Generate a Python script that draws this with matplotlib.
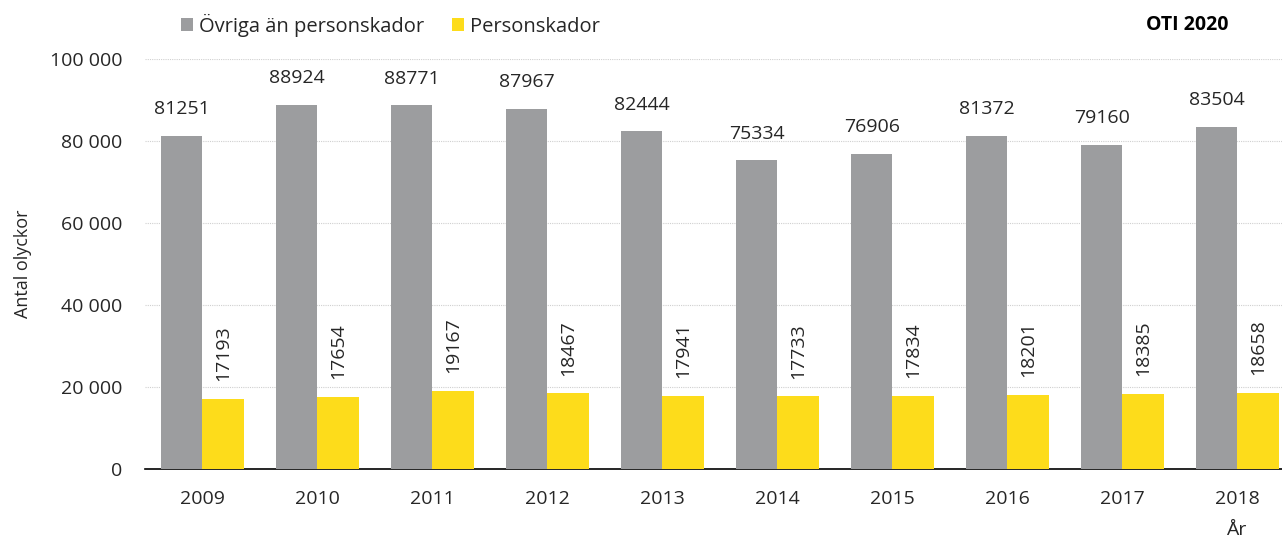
import matplotlib
matplotlib.use("Agg")
import matplotlib.pyplot as plt
import numpy as np

years = ["2009", "2010", "2011", "2012", "2013", "2014", "2015", "2016", "2017", "2018"]
ovriga = [81251, 88924, 88771, 87967, 82444, 75334, 76906, 81372, 79160, 83504]
person = [17193, 17654, 19167, 18467, 17941, 17733, 17834, 18201, 18385, 18658]
yticks = [0, 20000, 40000, 60000, 80000, 100000]
ytick_labels = ["0", "20 000", "40 000", "60 000", "80 000", "100 000"]

plt.rcParams['font.family'] = ['Open Sans', 'DejaVu Sans']

gray = "#9C9D9F"
yellow = "#FDDC1B"
txt = "#262626"

fig = plt.figure(figsize=(12.82, 5.38), dpi=100)
ax = fig.add_axes([0.113, 0.128, 1150 / 1282, 0.762])

x = np.arange(len(years))
w = 0.36
ax.bar(x - w/2, ovriga, w, color=gray, label="Övriga än personskador", zorder=3)
ax.bar(x + w/2, person, w, color=yellow, label="Personskador", zorder=3)

for xi, v in zip(x, ovriga):
    ax.text(xi - w/2, v + 4300, str(v), ha="center", va="bottom", fontsize=14, color=txt)
for xi, v in zip(x, person):
    ax.text(xi + w/2, v + 4300, str(v), ha="center", va="bottom", rotation=90, fontsize=14, color=txt)

ax.set_xlim(-0.5, len(years) - 0.5)
ax.set_ylim(0, 100000)
ax.set_yticks(yticks)
ax.set_yticklabels(ytick_labels, fontsize=14, color=txt)
ax.set_xticks(x)
ax.set_xticklabels(years, fontsize=14, color=txt)
ax.tick_params(axis="x", length=0, pad=15)
ax.tick_params(axis="y", length=0, pad=16)
ax.yaxis.grid(True, color="#D0D0D0", linestyle=(0, (1, 1)), linewidth=0.8, zorder=0)
for s in ["top", "right", "left"]:
    ax.spines[s].set_visible(False)
ax.spines["bottom"].set_color("#000000")
ax.spines["bottom"].set_linewidth(1.2)

ax.set_ylabel("Antal olyckor", fontsize=13, color=txt, labelpad=13)

fig.text(1236 / 1282, 1 - 530 / 538, "År", fontsize=14, color=txt, ha="center", va="center")
fig.text(0.958, 1 - 25 / 538, "OTI 2020", fontsize=14, fontweight="bold", color="#000000", ha="right", va="center")

leg = fig.legend(loc="center left", bbox_to_anchor=(0.141, 1 - 25 / 538), ncol=2, frameon=False,
                 fontsize=14.5, handlelength=0.6, handleheight=0.6, handletextpad=0.3, columnspacing=1.4,
                 borderaxespad=0, borderpad=0)
for t in leg.get_texts():
    t.set_color(txt)

fig.savefig("out.png", dpi=100)
